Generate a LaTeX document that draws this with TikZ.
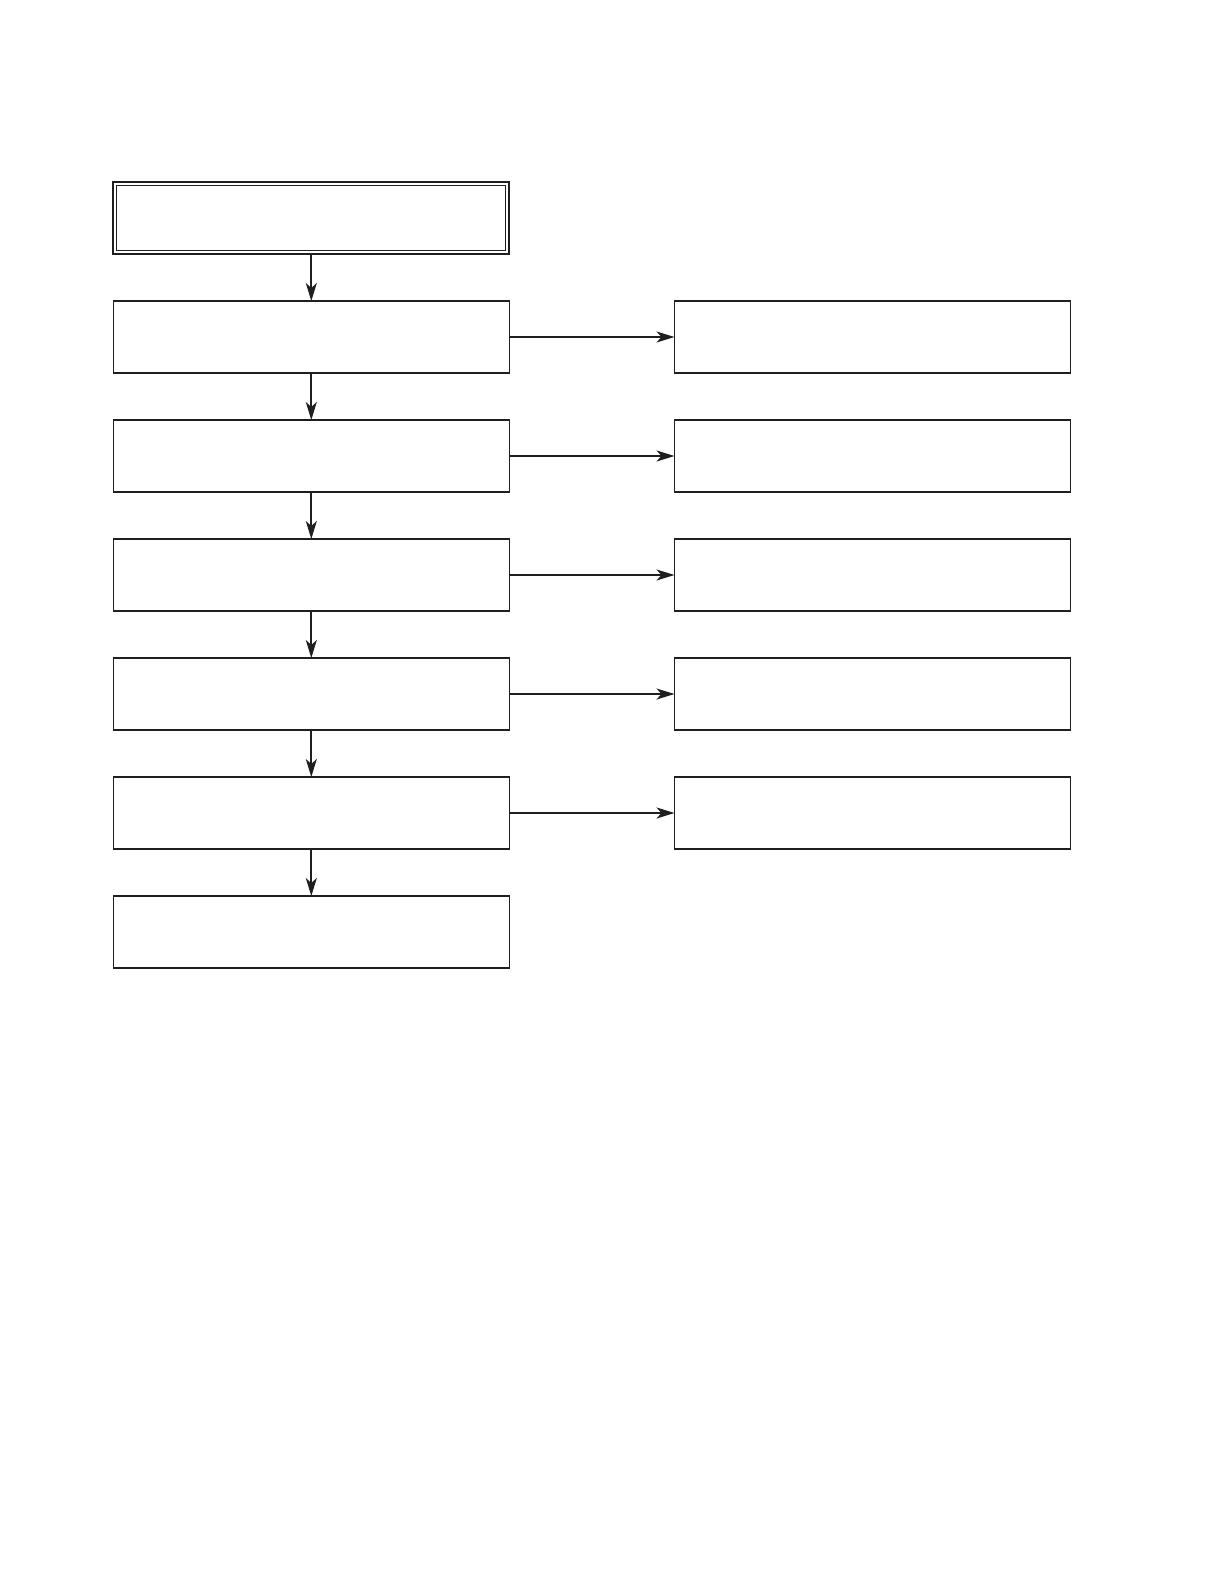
\documentclass[tikz,border=0pt]{standalone}
\usetikzlibrary{arrows.meta}
\begin{document}
\begin{tikzpicture}[x=1pt,y=-1pt,
  box/.style={draw=black!88, line width=1.4pt, fill=white, minimum width=396pt, minimum height=72pt, inner sep=0pt, outer sep=0pt},
  topbox/.style={box, line width=2pt},
  arr/.style={line width=2pt, draw=black!88, -{Stealth[length=18pt,width=11pt,inset=5pt]}}
]
\useasboundingbox (0,0) rectangle (1220,1588);
\fill[white] (0,0) rectangle (1220,1588);
\node[topbox] (t) at (311.3,218) {};
\draw[line width=1pt, black!88] ([shift={(3.5pt,-3.5pt)}]t.north west) rectangle ([shift={(-3.5pt,3.5pt)}]t.south east);
\node[box] (l1) at (311.3,337) {};
\node[box] (l2) at (311.3,456) {};
\node[box] (l3) at (311.3,575) {};
\node[box] (l4) at (311.3,694) {};
\node[box] (l5) at (311.3,813) {};
\node[box] (l6) at (311.3,932) {};
\node[box] (r1) at (872.5,337) {};
\node[box] (r2) at (872.5,456) {};
\node[box] (r3) at (872.5,575) {};
\node[box] (r4) at (872.5,694) {};
\node[box] (r5) at (872.5,813) {};
\draw[line width=2.2pt, black!88] (l1.north west) -- (l1.north east);
\draw[line width=2.2pt, black!88] (r1.north west) -- (r1.north east);
\draw[arr] (t.south) -- (l1.north);
\draw[arr] (l1.south) -- (l2.north);
\draw[arr] (l2.south) -- (l3.north);
\draw[arr] (l3.south) -- (l4.north);
\draw[arr] (l4.south) -- (l5.north);
\draw[arr] (l5.south) -- (l6.north);
\draw[arr] (l1.east) -- (r1.west);
\draw[arr] (l2.east) -- (r2.west);
\draw[arr] (l3.east) -- (r3.west);
\draw[arr] (l4.east) -- (r4.west);
\draw[arr] (l5.east) -- (r5.west);
\end{tikzpicture}
\end{document}
